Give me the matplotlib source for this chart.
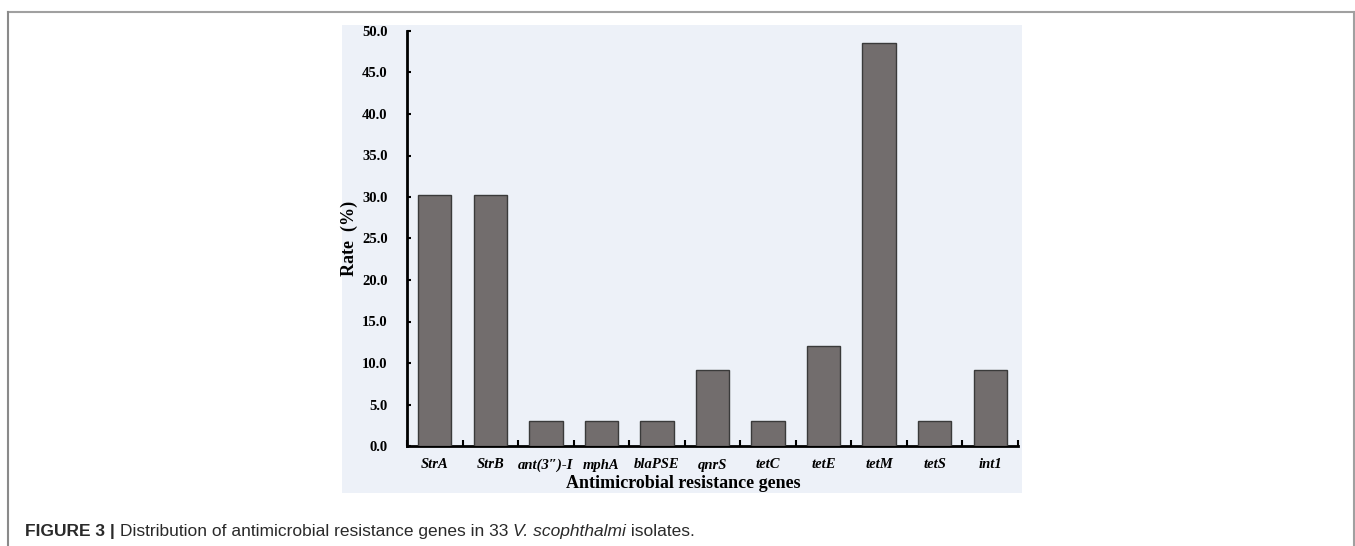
import matplotlib
matplotlib.use("Agg")
import matplotlib.pyplot as plt
from matplotlib.patches import Rectangle
from matplotlib.lines import Line2D
import numpy as np

genes = ["StrA", "StrB", "ant(3\u2033)-I", "mphA", "blaPSE", "qnrS", "tetC", "tetE", "tetM", "tetS", "int1"]
rates = [30.3, 30.3, 3.0, 3.0, 3.0, 9.1, 3.0, 12.1, 48.5, 3.0, 9.1]
yticks = [0, 5, 10, 15, 20, 25, 30, 35, 40, 45, 50]

W, H = 1355, 546
fig = plt.figure(figsize=(W / 100, H / 100), dpi=100)
fig.patch.set_facecolor("white")

# outer frame lines
fy = 1 - 12 / H
fig.add_artist(Line2D([8 / W, 1 - 1.5 / W], [fy, fy], color="#a0a0a0", lw=1.5, transform=fig.transFigure))
fig.add_artist(Line2D([8 / W, 8 / W], [0, fy], color="#8a8a8a", lw=1.5, transform=fig.transFigure))
fig.add_artist(Line2D([1 - 1.5 / W, 1 - 1.5 / W], [0, fy], color="#a0a0a0", lw=1.5, transform=fig.transFigure))

# light panel
fig.add_artist(Rectangle((342 / W, 1 - 493 / H), (1022 - 342) / W, (493 - 25) / H,
                         facecolor="#edf1f8", edgecolor="none", transform=fig.transFigure, zorder=0))

ax = fig.add_axes([407 / W, 1 - 446 / H, (1018 - 407) / W, (446 - 31) / H])
ax.patch.set_alpha(0)
x = np.arange(len(genes))
ax.bar(x, rates, width=0.6, color="#726d6d", edgecolor="#3a3a3a", linewidth=1.0, zorder=3)
ax.set_xlim(-0.5, len(genes) - 0.5)
ax.set_ylim(0, 50)

for s in ["top", "right"]:
    ax.spines[s].set_visible(False)
for s in ["left", "bottom"]:
    ax.spines[s].set_linewidth(2)
    ax.spines[s].set_color("black")

ax.set_yticks(yticks)
ax.set_yticklabels([f"{v:.1f}" for v in yticks], fontfamily="Liberation Serif", fontweight="bold", fontsize=10.5)
ax.tick_params(axis="y", direction="in", length=3, width=1.5, pad=14)

ax.set_xticks(np.arange(len(genes) + 1) - 0.5)
ax.set_xticklabels([])
ax.tick_params(axis="x", which="major", direction="in", length=4, width=1.5)
ax.set_xticks(x, minor=True)
ax.set_xticklabels(genes, minor=True, fontfamily=["Liberation Serif", "DejaVu Serif"], fontweight="bold",
                   fontstyle="italic", fontsize=10.5)
ax.tick_params(axis="x", which="minor", length=0, pad=9)

fig.text(349 / W, 1 - 238 / H, "Rate  (%)", rotation=90, ha="center", va="center",
         fontfamily="Liberation Serif", fontweight="bold", fontsize=13)
fig.text(683 / W, 1 - 484 / H, "Antimicrobial resistance genes", ha="center", va="center",
         fontfamily="Liberation Serif", fontweight="bold", fontsize=13)

# caption, pieces placed one after another
pieces = [("FIGURE 3 | ", "bold", "normal"),
          ("Distribution of antimicrobial resistance genes in 33 ", "normal", "normal"),
          ("V. scophthalmi", "normal", "italic"),
          (" isolates.", "normal", "normal")]
renderer = fig.canvas.get_renderer()
xpos = 25
for txt, wt, st in pieces:
    t = fig.text(xpos / W, 1 - 536 / H, txt, ha="left", va="baseline", fontfamily="Liberation Sans",
                 fontweight=wt, fontstyle=st, fontsize=12.5, color="#2a2a2a")
    bb = t.get_window_extent(renderer=renderer)
    xpos += bb.width

fig.savefig("out.png", dpi=100)
